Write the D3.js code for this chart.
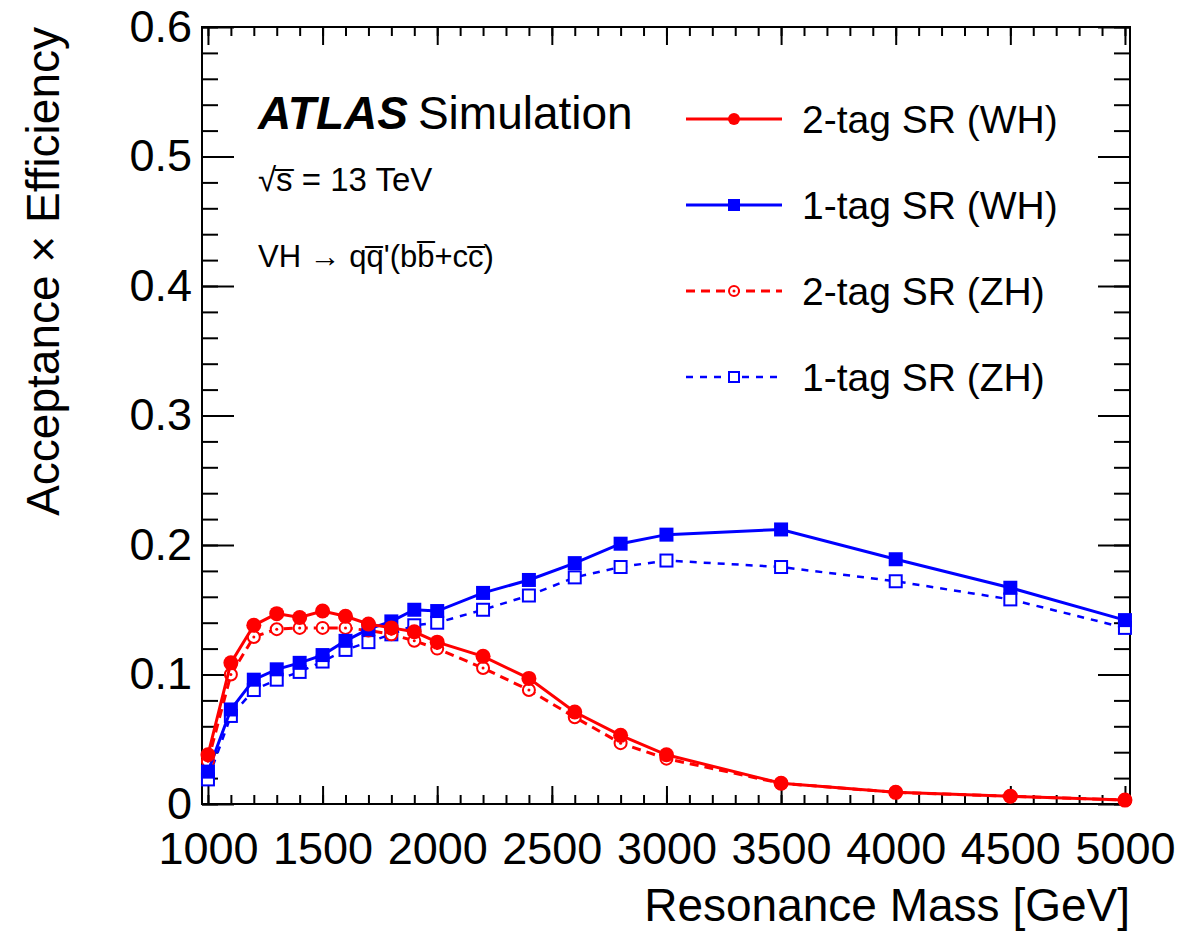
<!DOCTYPE html>
<html>
<head>
<meta charset="utf-8">
<script src="https://cdn.jsdelivr.net/npm/d3@7"></script>
<style>
  body { margin: 0; background: #fff; }
  text { font-family: "Liberation Sans", Arial, sans-serif; fill: #000; }
</style>
</head>
<body>
<div id="chart"></div>
<script>
const width = 1201;
const height = 933;
const marginTop = 27;
const marginRight = 71;
const marginBottom = 129;
const marginLeft = 202;

// resonance masses [GeV]
const masses = [1000, 1100, 1200, 1300, 1400, 1500, 1600, 1700, 1800, 1900, 2000, 2200, 2400, 2600, 2800, 3000, 3500, 4000, 4500, 5000];
const twoTagWH = [0.038, 0.109, 0.138, 0.147, 0.144, 0.149, 0.145, 0.139, 0.136, 0.133, 0.125, 0.114, 0.097, 0.071, 0.053, 0.038, 0.016, 0.009, 0.006, 0.003];
const oneTagWH = [0.025, 0.073, 0.096, 0.104, 0.109, 0.115, 0.126, 0.135, 0.141, 0.150, 0.149, 0.163, 0.173, 0.186, 0.201, 0.208, 0.212, 0.189, 0.167, 0.142];
const twoTagZH = [0.033, 0.100, 0.129, 0.135, 0.136, 0.136, 0.136, 0.134, 0.131, 0.126, 0.120, 0.105, 0.088, 0.067, 0.047, 0.035, 0.016, 0.009, 0.006, 0.003];
const oneTagZH = [0.019, 0.068, 0.088, 0.096, 0.102, 0.110, 0.119, 0.125, 0.131, 0.138, 0.140, 0.150, 0.161, 0.175, 0.183, 0.188, 0.183, 0.172, 0.158, 0.136];

const xTicks = [1000, 1500, 2000, 2500, 3000, 3500, 4000, 4500, 5000];
const yTicks = [0, 0.1, 0.2, 0.3, 0.4, 0.5, 0.6];

const series = [
  { name: "2-tag SR (WH)", values: twoTagWH, color: "#ff0000", dash: null, width: 3, marker: "circle" },
  { name: "1-tag SR (WH)", values: oneTagWH, color: "#0000ff", dash: null, width: 3, marker: "square" },
  { name: "2-tag SR (ZH)", values: twoTagZH, color: "#ff0000", dash: "9,6", width: 3, marker: "opencircle" },
  { name: "1-tag SR (ZH)", values: oneTagZH, color: "#0000ff", dash: "7,7", width: 2.5, marker: "opensquare" }
];

const innerW = width - marginLeft - marginRight;
const innerH = height - marginTop - marginBottom;

const x = d3.scaleLinear()
    .domain([974, 5022])
    .range([0, innerW]);
const y = d3.scaleLinear()
    .domain([0, 0.6])
    .range([innerH, 0]);

const svg = d3.select("#chart")
  .append("svg")
    .attr("width", width)
    .attr("height", height)
  .append("g")
    .attr("transform", `translate(${marginLeft},${marginTop})`);

const minorX = d3.range(1000, 5001, 100);
const minorY = d3.range(0, 0.601, 0.02);

// x axis, bottom (ROOT style: ticks inward)
svg.append("g")
    .attr("transform", `translate(0,${innerH})`)
    .call(d3.axisBottom(x).tickValues(minorX).tickSize(-9).tickFormat(""));
svg.append("g")
    .attr("transform", `translate(0,${innerH})`)
    .call(d3.axisBottom(x).tickValues(xTicks).tickSize(-18).tickPadding(28).tickFormat(d3.format("d")));
// x axis, top
svg.append("g")
    .call(d3.axisTop(x).tickValues(minorX).tickSize(-9).tickFormat(""));
svg.append("g")
    .call(d3.axisTop(x).tickValues(xTicks).tickSize(-18).tickFormat(""));

// y axis, left
svg.append("g")
    .call(d3.axisLeft(y).tickValues(minorY).tickSize(-16).tickFormat(""));
svg.append("g")
    .call(d3.axisLeft(y).tickValues(yTicks).tickSize(-32).tickPadding(10).tickFormat(d => d === 0 ? "0" : d3.format(".1f")(d)));
// y axis, right
svg.append("g")
    .attr("transform", `translate(${innerW},0)`)
    .call(d3.axisRight(y).tickValues(minorY).tickSize(-16).tickFormat(""));
svg.append("g")
    .attr("transform", `translate(${innerW},0)`)
    .call(d3.axisRight(y).tickValues(yTicks).tickSize(-32).tickFormat(""));

svg.selectAll(".domain").remove();
svg.selectAll(".tick line").attr("stroke", "#000").attr("stroke-width", 2);
svg.selectAll(".tick text")
    .style("font-family", "'Liberation Sans', Arial, sans-serif")
    .style("font-size", "45px");

svg.append("rect")
    .attr("width", innerW)
    .attr("height", innerH)
    .attr("fill", "none")
    .attr("stroke", "#000")
    .attr("stroke-width", 2);

// axis titles
svg.append("text")
    .attr("x", innerW)
    .attr("y", innerH + 117)
    .attr("text-anchor", "end")
    .style("font-size", "46px")
    .text("Resonance Mass [GeV]");
svg.append("text")
    .attr("transform", "rotate(-90)")
    .attr("x", 0)
    .attr("y", -143)
    .attr("text-anchor", "end")
    .style("font-size", "46px")
    .text("Acceptance \u00d7 Efficiency");

// lines
const line = d3.line()
    .x((d, i) => x(masses[i]))
    .y(d => y(d));

function drawMarker(g, type, color, size) {
  if (type === "circle") {
    g.append("circle").attr("r", size / 2).attr("fill", color);
  } else if (type === "square") {
    g.append("rect").attr("x", -size / 2).attr("y", -size / 2)
        .attr("width", size).attr("height", size).attr("fill", color);
  } else if (type === "opencircle") {
    g.append("circle").attr("r", size / 2 - 1).attr("fill", "#fff")
        .attr("stroke", color).attr("stroke-width", 2);
    g.append("circle").attr("r", 1.5).attr("fill", color);
  } else {
    g.append("rect").attr("x", -size / 2 + 1).attr("y", -size / 2 + 1)
        .attr("width", size - 2).attr("height", size - 2).attr("fill", "#fff")
        .attr("stroke", color).attr("stroke-width", 2);
  }
}

// draw ZH first, then WH on top
const drawOrder = [series[3], series[2], series[1], series[0]];
drawOrder.forEach(s => {
  svg.append("path")
      .datum(s.values)
      .attr("fill", "none")
      .attr("stroke", s.color)
      .attr("stroke-width", s.width)
      .attr("stroke-dasharray", s.dash)
      .attr("d", line);
  s.values.forEach((v, i) => {
    const g = svg.append("g").attr("transform", `translate(${x(masses[i])},${y(v)})`);
    drawMarker(g, s.marker, s.color, s.marker === "circle" ? 15 : 14);
  });
});

// labels
const atlas = svg.append("text")
    .attr("x", 56)
    .attr("y", 102)
    .style("font-size", "46px");
atlas.append("tspan").style("font-weight", "bold").style("font-style", "italic").text("ATLAS");
atlas.append("tspan").attr("dx", 10).text("Simulation");

svg.append("text")
    .attr("x", 56)
    .attr("y", 164)
    .style("font-size", "33px")
    .text("\u221as\u0305 = 13 TeV");

svg.append("text")
    .attr("x", 56)
    .attr("y", 240)
    .style("font-size", "31px")
    .text("VH \u2192 qq\u0305'(bb\u0305+cc\u0305)");

// legend
const legend = svg.append("g").attr("transform", `translate(${686 - marginLeft},0)`);
series.forEach((s, i) => {
  const row = legend.append("g").attr("transform", `translate(0,${92 + i * 86})`);
  row.append("line")
      .attr("x1", 0).attr("x2", 96)
      .attr("stroke", s.color)
      .attr("stroke-width", s.width)
      .attr("stroke-dasharray", s.dash);
  const m = row.append("g").attr("transform", "translate(48,0)");
  drawMarker(m, s.marker, s.color, 12);
  row.append("text")
      .attr("x", 116)
      .attr("dy", "0.36em")
      .style("font-size", "39px")
      .text(s.name);
});
</script>
</body>
</html>
